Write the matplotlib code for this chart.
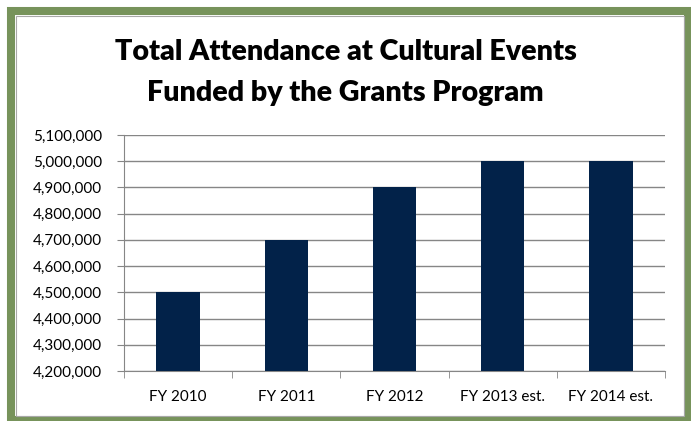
import matplotlib.pyplot as plt
from matplotlib.patches import Rectangle
from matplotlib.ticker import FuncFormatter, MultipleLocator
import numpy as np

years = ["FY 2010", "FY 2011", "FY 2012", "FY 2013 est.", "FY 2014 est."]
attendance = [4500000, 4700000, 4900000, 5000000, 5000000]

plt.rcParams['font.family'] = ['Lato', 'DejaVu Sans']

fig = plt.figure(figsize=(6.91, 4.21), dpi=100)
ax = fig.add_axes([124 / 691, 1 - 371 / 421, (665 - 124) / 691, (371 - 135) / 421])

x = np.arange(len(years))
ax.bar(x, attendance, width=0.4, color='#022249', zorder=3)

ax.set_ylim(4200000, 5100000)
ax.set_xlim(-0.5, len(years) - 0.5)
ax.yaxis.set_major_locator(MultipleLocator(100000))
ax.yaxis.set_major_formatter(FuncFormatter(lambda v, p: f"{int(v):,}"))
ax.set_xticks(x)
ax.set_xticklabels(years)
ax.set_xticks(np.arange(-0.5, len(years), 1), minor=True)
ax.tick_params(axis='x', which='major', length=0, pad=14, labelsize=11)
ax.tick_params(axis='x', which='minor', length=5, color='#868686', direction='out')
ax.tick_params(axis='y', length=5, color='#868686', labelsize=11, pad=11)

ax.grid(axis='y', color='#868686', linewidth=1, zorder=0)
for side in ['top', 'right']:
    ax.spines[side].set_visible(False)
for side in ['left', 'bottom']:
    ax.spines[side].set_color('#868686')

fig.text(0.5, 1 - 52 / 421, "Total Attendance at Cultural Events", ha='center', va='center',
         fontsize=20.6, fontweight='heavy')
fig.text(0.5, 1 - 93 / 421, "Funded by the Grants Program", ha='center', va='center',
         fontsize=20.6, fontweight='heavy')

# green frame around the whole chart, running off the right and bottom edges
fig.patches.append(Rectangle((11 / 691, 1 / 421), 677 / 691, 409 / 421, transform=fig.transFigure,
                             fill=False, edgecolor='#77935b', linewidth=5.8))
fig.patches.append(Rectangle((15.5 / 691, 5 / 421), 668.5 / 691, 400.5 / 421, transform=fig.transFigure,
                             fill=False, edgecolor='#a8a8a8', linewidth=0.8))

fig.savefig('out.png', dpi=100)
